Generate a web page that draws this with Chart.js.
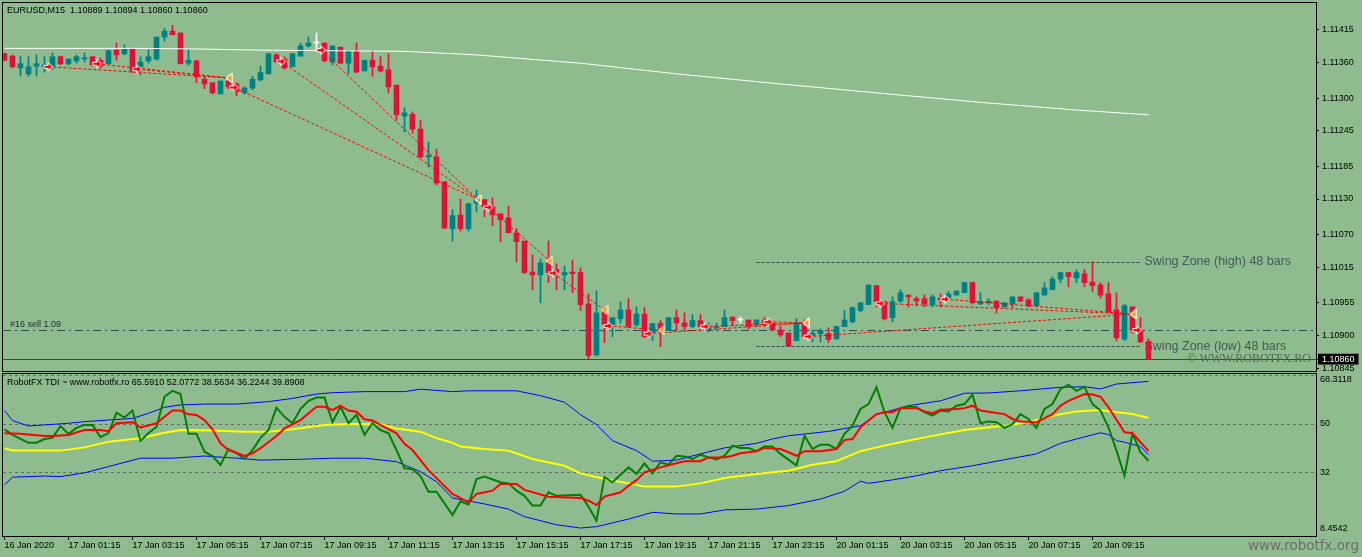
<!DOCTYPE html>
<html>
<head>
<meta charset="utf-8">
<title>EURUSD,M15 - RobotFX TDI</title>
<script src="https://cdn.jsdelivr.net/npm/chart.js@4.4.1/dist/chart.umd.min.js"></script>
<style>
  html, body { margin: 0; padding: 0; background: #8fbc8f; overflow: hidden; }
  #wrap { position: relative; width: 1362px; height: 557px; }
  canvas { position: absolute; left: 0; }
</style>
</head>
<body>
<div id="wrap">
  <canvas id="priceChart" width="1362" height="372" style="top:0"></canvas>
  <canvas id="tdiChart" width="1362" height="185" style="top:372px"></canvas>
</div>
<script>
// ---- data ----
const symbol = 'EURUSD,M15';
const indicatorName = 'RobotFX TDI ~ www.robotfx.ro';

// 144 M15 bars, 16 Jan 23:15 .. 20 Jan 11:00
const open = [
  1.11375,1.11371,1.11351,1.11341,1.11354,1.11353,1.11353,1.11370,1.11358,1.11363,
  1.11366,1.11370,1.11364,1.11358,1.11381,1.11375,1.11383,1.11353,1.11363,1.11366,
  1.11403,1.11413,1.11410,1.11359,1.11363,1.11332,1.11326,1.11307,1.11329,1.11324,
  1.11309,1.11317,1.11331,1.11341,1.11373,1.11366,1.11353,1.11371,1.11388,1.11393,
  1.11393,1.11361,1.11386,1.11359,1.11380,1.11346,1.11364,1.11354,1.11348,1.11322,
  1.11270,1.11273,1.11248,1.11201,1.11201,1.11159,1.11080,1.11103,1.11080,1.11123,
  1.11129,1.11117,1.11105,1.11098,1.11073,1.11059,1.11007,1.11002,1.11022,1.11011,
  1.11002,1.11007,1.11006,1.10953,1.10867,1.10940,1.10918,1.10928,1.10943,1.10918,
  1.10936,1.10904,1.10920,1.10908,1.10930,1.10921,1.10915,1.10925,1.10911,1.10913,
  1.10915,1.10931,1.10926,1.10926,1.10918,1.10926,1.10921,1.10909,1.10904,1.10891,
  1.10921,1.10899,1.10903,1.10903,1.10894,1.10915,1.10923,1.10942,1.10952,1.10984,
  1.10957,1.10930,1.10958,1.10968,1.10962,1.10962,1.10952,1.10963,1.10963,1.10968,
  1.10972,1.10989,1.10953,1.10955,1.10958,1.10948,1.10953,1.10965,1.10960,1.10950,
  1.10968,1.10977,1.10995,1.11006,1.10997,1.11004,1.10990,1.10985,1.10970,1.10943,
  1.10894,1.10948,1.10909,1.10889
];
const high = [
  1.11376,1.11373,1.11371,1.11370,1.11373,1.11370,1.11376,1.11371,1.11366,1.11373,
  1.11376,1.11370,1.11368,1.11381,1.11393,1.11390,1.11383,1.11370,1.11381,1.11403,
  1.11418,1.11423,1.11410,1.11381,1.11364,1.11336,1.11326,1.11329,1.11336,1.11326,
  1.11319,1.11337,1.11354,1.11375,1.11375,1.11370,1.11375,1.11393,1.11403,1.11410,
  1.11393,1.11388,1.11386,1.11380,1.11393,1.11364,1.11380,1.11370,1.11375,1.11322,
  1.11284,1.11277,1.11263,1.11226,1.11214,1.11159,1.11112,1.11130,1.11123,1.11145,
  1.11129,1.11132,1.11105,1.11118,1.11080,1.11059,1.11036,1.11029,1.11059,1.11021,
  1.11017,1.11027,1.11014,1.10970,1.10975,1.10948,1.10930,1.10957,1.10962,1.10948,
  1.10947,1.10920,1.10925,1.10930,1.10943,1.10938,1.10935,1.10935,1.10921,1.10921,
  1.10943,1.10931,1.10931,1.10926,1.10926,1.10930,1.10925,1.10915,1.10904,1.10928,
  1.10926,1.10909,1.10911,1.10913,1.10916,1.10942,1.10948,1.10955,1.10985,1.10984,
  1.10957,1.10965,1.10977,1.10968,1.10965,1.10968,1.10968,1.10970,1.10974,1.10975,
  1.10989,1.10990,1.10972,1.10962,1.10958,1.10955,1.10965,1.10965,1.10962,1.10972,
  1.10989,1.10999,1.11006,1.11006,1.11011,1.11011,1.11024,1.10989,1.10989,1.10972,
  1.10952,1.10948,1.10930,1.10894
];
const low = [
  1.11363,1.11351,1.11337,1.11337,1.11337,1.11344,1.11348,1.11356,1.11356,1.11359,
  1.11361,1.11354,1.11351,1.11358,1.11364,1.11373,1.11343,1.11339,1.11359,1.11364,
  1.11396,1.11407,1.11358,1.11356,1.11326,1.11316,1.11307,1.11307,1.11316,1.11304,
  1.11307,1.11314,1.11329,1.11341,1.11359,1.11349,1.11353,1.11371,1.11386,1.11381,
  1.11361,1.11356,1.11359,1.11341,1.11343,1.11346,1.11337,1.11344,1.11309,1.11263,
  1.11243,1.11241,1.11199,1.11184,1.11154,1.11080,1.11059,1.11076,1.11076,1.11108,
  1.11100,1.11085,1.11058,1.11073,1.11024,1.11004,1.10977,1.10955,1.10989,1.10977,
  1.10977,1.10972,1.10942,1.10861,1.10866,1.10888,1.10898,1.10921,1.10913,1.10915,
  1.10896,1.10891,1.10881,1.10908,1.10909,1.10909,1.10913,1.10913,1.10906,1.10909,
  1.10915,1.10916,1.10921,1.10911,1.10915,1.10916,1.10909,1.10898,1.10882,1.10891,
  1.10898,1.10889,1.10889,1.10888,1.10894,1.10915,1.10921,1.10940,1.10952,1.10948,
  1.10926,1.10923,1.10955,1.10948,1.10950,1.10948,1.10948,1.10948,1.10960,1.10968,
  1.10972,1.10953,1.10952,1.10952,1.10938,1.10947,1.10947,1.10957,1.10948,1.10950,
  1.10968,1.10977,1.10989,1.10982,1.10989,1.10982,1.10974,1.10963,1.10938,1.10891,
  1.10891,1.10904,1.10888,1.10860
];
const close = [
  1.11364,1.11353,1.11358,1.11353,1.11358,1.11356,1.11370,1.11358,1.11366,1.11370,
  1.11368,1.11356,1.11354,1.11380,1.11373,1.11383,1.11346,1.11361,1.11370,1.11403,
  1.11413,1.11407,1.11358,1.11364,1.11336,1.11324,1.11309,1.11329,1.11319,1.11311,
  1.11317,1.11332,1.11343,1.11375,1.11361,1.11351,1.11375,1.11388,1.11393,1.11393,
  1.11363,1.11388,1.11359,1.11380,1.11344,1.11364,1.11353,1.11346,1.11319,1.11272,
  1.11275,1.11248,1.11201,1.11203,1.11157,1.11081,1.11102,1.11080,1.11122,1.11129,
  1.11117,1.11103,1.11095,1.11073,1.11058,1.11006,1.11002,1.11022,1.11006,1.11006,
  1.11006,1.11004,1.10952,1.10866,1.10938,1.10918,1.10930,1.10943,1.10915,1.10936,
  1.10898,1.10920,1.10909,1.10930,1.10921,1.10915,1.10925,1.10915,1.10916,1.10915,
  1.10930,1.10925,1.10926,1.10915,1.10926,1.10921,1.10909,1.10901,1.10882,1.10921,
  1.10898,1.10904,1.10908,1.10893,1.10915,1.10926,1.10947,1.10955,1.10985,1.10957,
  1.10928,1.10957,1.10972,1.10965,1.10958,1.10953,1.10965,1.10960,1.10970,1.10975,
  1.10989,1.10955,1.10957,1.10958,1.10947,1.10955,1.10965,1.10958,1.10950,1.10972,
  1.10980,1.10995,1.11006,1.10999,1.11006,1.10989,1.10984,1.10968,1.10940,1.10896,
  1.10950,1.10909,1.10889,1.10860
];

// slow moving average (white), [bar, price]
const maLine = [[0,1.11384],[16,1.11384],[24,1.11383],[32,1.11381],[50,1.11379],[59,1.11373],
  [72,1.11359],[84,1.11341],[97,1.11324],[109,1.11309],[122,1.11293],[134,1.11280],[143,1.11272]];

// closed trades: entry arrow -> exit triangle
const tradeOpenIdx  = [5.5, 11.6, 16.6, 28.7, 34.6, 39.6, 60.5, 68.6, 75.5, 80.5, 87.6, 95.5, 100.5, 109.5, 117.6];
const tradeOpenPx   = [1.11353,1.11358,1.11349,1.11318,1.11362,1.11381,1.11116,1.11005,1.10916,1.10903,1.10915,1.10923,1.10898,1.10954,1.10961];
const tradeCloseIdx = [28.1, 28.1, 28.1, 59.2, 59.2, 59.2, 68.1, 75.0, 82.1, 100.2, 100.2, 100.2, 141.1, 141.1, 141.1];
const tradeClosePx  = [1.11334,1.11334,1.11334,1.11129,1.11129,1.11129,1.11026,1.10943,1.10909,1.10921,1.10921,1.10921,1.10936,1.10936,1.10936];
// open order #16
const orderIdx = 141.6, orderPrice = 1.10909, orderLabel = '#16 sell 1.09';
// swing zone (48 bars)
const swingFrom = 94, swingTo = 142, swingHigh = 1.11024, swingLow = 1.10882;

const priceTicks = [1.11415,1.11360,1.11300,1.11245,1.11185,1.11130,1.11070,1.11015,1.10955,1.10900,1.10845];
const priceMin = 1.10840, priceMax = 1.114605;

// TDI lines, [bar, value]
const rsiLine = [[0,47.9],[1,45.8],[3,42.9],[4,42.9],[5,44.3],[6,44.7],[7,49.1],[8,46.2],[9,48.4],[10,49.5],[11,49.5],[12,45.0],
  [13,46.5],[14,54.0],[15,52.2],[16,54.8],[17,43.6],[18,46.5],[19,48.8],[20,59.9],[21,62.1],[22,60.9],[23,46.2],[24,46.2],
  [25,39.6],[26,38.0],[27,34.7],[28,40.6],[29,39.1],[30,36.9],[31,40.2],[32,44.7],[33,47.6],[34,55.9],[35,52.5],[36,50.1],
  [37,55.4],[38,58.4],[39,59.6],[40,59.6],[41,50.5],[42,56.2],[43,50.1],[44,53.2],[45,45.8],[46,50.1],[47,47.6],[48,46.4],
  [49,40.2],[50,33.5],[51,33.1],[52,30.6],[53,24.8],[54,24.8],[56,16.2],[57,21.3],[58,20.0],[59,29.5],[60,30.4],[62,28.3],
  [63,27.9],[64,25.2],[65,23.3],[66,19.7],[67,19.7],[68,24.6],[69,23.3],[72,23.7],[73,19.3],[74,14.1],[75,30.2],[76,28.3],
  [78,33.8],[79,31.4],[80,35.3],[81,31.6],[82,35.7],[83,34.8],[84,38.1],[85,37.8],[86,36.9],[87,38.5],[88,37.5],[89,36.7],
  [90,38.1],[91,41.8],[92,41.0],[93,41.0],[94,39.8],[95,41.5],[96,41.5],[97,38.8],[99,34.6],[100,45.5],[101,40.6],[102,42.2],
  [103,42.2],[104,40.6],[105,46.2],[106,49.2],[107,55.4],[108,57.2],[109,63.4],[110,54.2],[111,48.4],[112,55.7],[113,56.4],
  [114,56.0],[115,54.2],[116,52.9],[117,54.8],[118,54.5],[119,56.6],[120,57.2],[121,60.7],[122,50.1],[123,50.8],[124,50.5],
  [125,48.4],[126,49.8],[127,53.5],[128,51.7],[129,48.4],[130,55.4],[131,57.2],[132,62.8],[133,64.4],[134,62.1],[135,63.6],
  [136,57.2],[137,54.8],[138,48.6],[139,40.0],[140,30.7],[141,46.2],[142,39.4],[143,36.2244]];
const signalLine = [[0,46.4],[2,46.2],[5,45.4],[6,45.4],[8,45.8],[10,47.6],[12,47.6],[13,47.2],[14,50.1],[16,50.5],[17,48.6],
  [19,50.1],[20,52.5],[21,54.8],[22,54.8],[23,53.4],[24,53.2],[25,51.3],[26,47.9],[27,42.7],[28,40.2],[29,39.2],[30,38.0],
  [31,39.0],[32,40.9],[34,45.4],[35,48.2],[37,51.3],[38,53.8],[39,56.2],[40,56.2],[41,55.0],[42,56.6],[43,54.8],[44,54.4],
  [45,51.6],[46,51.1],[47,49.5],[49,46.4],[50,42.5],[51,40.2],[53,32.8],[56,24.0],[58,20.9],[59,24.0],[61,25.2],[62,27.7],
  [64,27.7],[65,25.5],[68,23.0],[72,22.5],[73,21.5],[74,19.9],[75,23.0],[77,24.6],[78,27.0],[79,29.1],[80,32.0],[82,33.8],
  [84,35.3],[85,36.1],[87,36.1],[88,37.5],[90,37.5],[91,38.1],[92,39.0],[94,39.8],[95,41.0],[97,40.6],[98,39.4],[99,38.1],
  [100,39.8],[102,39.8],[104,40.6],[105,43.9],[106,44.3],[107,48.6],[108,51.1],[109,53.5],[110,54.2],[111,54.2],[112,55.7],
  [114,55.7],[115,54.5],[116,53.8],[117,55.1],[119,55.4],[120,55.7],[121,56.6],[122,54.8],[123,54.4],[125,53.5],[126,51.7],
  [127,50.8],[129,50.5],[131,53.5],[132,56.6],[133,58.4],[135,60.9],[136,60.7],[137,59.9],[138,56.0],[140,46.8],[141,46.4],
  [142,43.1],[143,39.8908]];
const baseLine = [[0,40.9],[1,40.0],[4,40.0],[7,40.0],[10,41.2],[13,43.3],[17,44.6],[20,46.6],[22,47.6],[26,47.4],[30,47.0],
  [33,47.0],[36,47.9],[40,49.5],[43,49.8],[47,49.7],[49,48.2],[52,47.0],[54,44.6],[56,42.9],[57,41.5],[60,40.6],[63,40.0],
  [66,36.9],[70,34.4],[72,31.6],[75,29.5],[78,27.9],[80,26.7],[84,26.7],[87,27.9],[90,29.9],[94,31.4],[96,32.0],[98,32.6],
  [101,34.8],[104,36.1],[107,39.8],[109,41.2],[112,43.1],[115,44.9],[120,47.6],[125,49.2],[128,50.5],[131,52.9],[134,54.5],
  [137,55.0],[139,54.2],[141,53.5],[143,52.0772]];
const upperBand = [[0,54.8],[1,51.1],[3,49.1],[5,49.5],[8,50.1],[10,50.7],[13,51.3],[16,51.9],[18,53.8],[20,56.0],[22,56.9],
  [25,57.2],[29,57.2],[33,58.1],[36,59.3],[39,60.9],[41,61.4],[45,61.8],[50,61.8],[52,62.7],[56,61.8],[58,62.1],[64,62.1],
  [67,60.3],[70,57.9],[72,53.3],[74,49.6],[76,43.7],[79,40.0],[81,36.1],[84,36.5],[87,38.8],[90,41.0],[94,42.7],[96,44.3],
  [98,45.5],[103,47.1],[107,49.2],[109,53.3],[113,56.6],[117,58.4],[120,61.2],[123,61.3],[127,62.1],[132,63.4],[135,63.6],
  [137,62.8],[139,64.6],[143,65.5910]];
const lowerBand = [[0,27.3],[1,30.2],[5,30.6],[7,30.4],[10,31.8],[13,34.1],[17,37.2],[21,37.2],[25,38.0],[29,37.2],[32,36.5],
  [37,36.8],[41,37.2],[45,37.2],[49,35.9],[52,32.2],[54,28.5],[56,22.5],[60,20.3],[63,18.4],[65,15.6],[69,12.6],[72,11.4],
  [74,11.9],[78,14.7],[81,17.2],[84,16.6],[87,16.6],[90,18.1],[94,18.4],[98,19.7],[102,22.1],[105,25.0],[107,28.7],[108,27.9],
  [111,29.2],[114,30.7],[117,32.6],[121,34.4],[124,36.1],[129,38.8],[132,42.7],[134,44.3],[137,46.6],[138,45.9],[139,43.7],
  [140,43.1],[142,41.5],[143,38.5634]];
const tdiLevels = [68, 50, 32];
const tdiTicks = [68.3118, 50, 32, 8.4542];

const timeTickIdx = [0,8,16,24,32,40,48,56,64,72,80,88,96,104,112,120,128,136];
const timeTickLabels = ['16 Jan 2020','17 Jan 01:15','17 Jan 03:15','17 Jan 05:15','17 Jan 07:15','17 Jan 09:15',
  '17 Jan 11:15','17 Jan 13:15','17 Jan 15:15','17 Jan 17:15','17 Jan 19:15','17 Jan 21:15','17 Jan 23:15',
  '20 Jan 01:15','20 Jan 03:15','20 Jan 05:15','20 Jan 07:15','20 Jan 09:15'];

// ---- helpers ----
const SANS = '"Liberation Sans", Arial, sans-serif';
Chart.defaults.font.family = SANS;
Chart.defaults.font.size = 9;
Chart.defaults.color = '#000';

const last = close.length - 1;
const lastClose = close[last];
const candleColor = close.map((c, i) => c > open[i] ? '#008080' : (c < open[i] ? '#dc143c' : '#ffffff'));

function hline(ctx, x0, x1, y, color, dash) {
  y = Math.round(y) + 0.5;
  ctx.save();
  ctx.strokeStyle = color; ctx.lineWidth = 1; ctx.setLineDash(dash);
  ctx.beginPath(); ctx.moveTo(x0, y); ctx.lineTo(x1, y); ctx.stroke();
  ctx.restore();
}
function label(ctx, str, x, y, font, color, align) {
  ctx.font = font; ctx.fillStyle = color;
  ctx.textAlign = align || 'left'; ctx.textBaseline = 'middle';
  ctx.fillText(str, x, y);
}
function frame(chart) {
  const a = chart.chartArea, ctx = chart.ctx;
  ctx.save();
  ctx.strokeStyle = '#000'; ctx.lineWidth = 1;
  ctx.strokeRect(a.left - 0.5, a.top - 0.5, a.right - a.left + 1, a.bottom - a.top + 1);
  ctx.restore();
}

// trade markers
function arrowGlyph() {
  const c = document.createElement('canvas');
  c.width = 12; c.height = 10;
  const g = c.getContext('2d');
  g.beginPath();
  g.moveTo(1.5, 3.5); g.lineTo(5.5, 3.5); g.lineTo(5.5, 1); g.lineTo(10.5, 5);
  g.lineTo(5.5, 9); g.lineTo(5.5, 6.5); g.lineTo(1.5, 6.5); g.closePath();
  g.fillStyle = '#ff0000'; g.strokeStyle = '#ffffff'; g.lineWidth = 1;
  g.fill(); g.stroke();
  return c;
}
function closeGlyph() {
  const c = document.createElement('canvas');
  c.width = 8; c.height = 11;
  const g = c.getContext('2d');
  g.beginPath(); g.moveTo(1, 5.5); g.lineTo(7, 1); g.lineTo(7, 10); g.closePath();
  g.fillStyle = '#daa520'; g.strokeStyle = '#ffffff'; g.lineWidth = 1;
  g.fill(); g.stroke();
  return c;
}
const arrowImg = arrowGlyph();
const closeImg = closeGlyph();

const tradePts = [];
tradeOpenIdx.forEach((x0, k) => {
  tradePts.push([x0, tradeOpenPx[k]], [tradeCloseIdx[k], tradeClosePx[k]], [tradeCloseIdx[k], null]);
});

// both panes share the same bar -> pixel mapping (8 px per bar)
const xRange = { type: 'linear', min: -0.1875, max: 163.9375, offset: false, bounds: 'data' };

// ---- price pane ----
const pricePlugin = {
  id: 'priceOverlay',
  beforeDatasetsDraw(chart) {
    const { ctx, chartArea: a, scales: { x, y } } = chart;
    hline(ctx, a.left, a.right, y.getPixelForValue(lastClose), '#2f4f4f', []);
    hline(ctx, a.left, a.right, y.getPixelForValue(orderPrice), '#2f4f4f', [8, 4, 2, 4]);
    hline(ctx, x.getPixelForValue(swingFrom), x.getPixelForValue(swingTo), y.getPixelForValue(swingHigh), '#2f4f4f', [3, 2]);
    hline(ctx, x.getPixelForValue(swingFrom), x.getPixelForValue(swingTo), y.getPixelForValue(swingLow), '#2f4f4f', [3, 2]);
    const tx = x.getPixelForValue(swingTo) + 4;
    label(ctx, 'Swing Zone (high) 48 bars', tx, y.getPixelForValue(swingHigh), '12.5px ' + SANS, '#46595a');
    label(ctx, 'Swing Zone (low) 48 bars', tx, y.getPixelForValue(swingLow), '12.5px ' + SANS, '#46595a');
    label(ctx, orderLabel, a.left + 7, y.getPixelForValue(orderPrice) - 5.5, '9px ' + SANS, '#1a2828');
    label(ctx, '\u00a9 WWW.ROBOTFX.RO', a.right - 5, y.getPixelForValue(lastClose), '12px "Liberation Serif", serif', '#566356', 'right');
  },
  afterDraw(chart) {
    frame(chart);
    const hdr = symbol + '  ' + [open[last], high[last], low[last], close[last]].map(v => v.toFixed(5)).join(' ');
    label(chart.ctx, hdr, chart.chartArea.left + 4, 11, '9px ' + SANS, '#000');
  }
};

new Chart(document.getElementById('priceChart'), {
  type: 'bar',
  data: {
    datasets: [
      { label: 'wick', data: high.map((h, i) => ({ x: i, y: [low[i], h] })), backgroundColor: candleColor,
        barThickness: 1, grouped: false, order: 6 },
      { label: 'body', data: open.map((o, i) => ({ x: i, y: [o, close[i]] })), backgroundColor: candleColor,
        barThickness: 5, minBarLength: 1, grouped: false, order: 5 },
      { type: 'line', label: 'MA', data: maLine, borderColor: '#ffffff', borderWidth: 1, pointRadius: 0, order: 4 },
      { type: 'line', label: 'trades', data: tradePts, borderColor: '#ff0000', borderWidth: 1, borderDash: [3, 2],
        pointRadius: 4, pointStyle: ctx => ctx.dataIndex % 3 === 0 ? arrowImg : closeImg, order: 3 },
      { type: 'line', label: 'order', data: [[orderIdx, orderPrice]], showLine: false,
        pointRadius: 4, pointStyle: arrowImg, order: 2 }
    ]
  },
  options: {
    responsive: false, animation: false, events: [],
    layout: { autoPadding: false, padding: { left: 3, top: 3, right: 0, bottom: 1 } },
    plugins: { legend: { display: false }, tooltip: { enabled: false } },
    scales: {
      x: Object.assign({}, xRange, { display: false }),
      y: {
        position: 'right', min: priceMin, max: priceMax, bounds: 'data', beginAtZero: false,
        afterBuildTicks: s => { s.ticks = priceTicks.concat([lastClose]).map(v => ({ value: v })); },
        afterFit: s => { s.width = 46; s.paddingTop = 0; s.paddingBottom = 0; },
        border: { display: false },
        grid: { drawOnChartArea: false, tickLength: 3, color: '#000' },
        ticks: {
          autoSkip: false, padding: 3, font: { size: 9 },
          callback: v => v.toFixed(5),
          color: c => c.tick && c.tick.value === lastClose ? '#ffffff' : '#000000',
          showLabelBackdrop: true,
          backdropColor: c => c.tick && c.tick.value === lastClose ? '#000000' : 'rgba(0,0,0,0)',
          backdropPadding: { left: 4, right: 4, top: 0, bottom: 0 }
        }
      }
    }
  },
  plugins: [pricePlugin]
});

// ---- TDI pane ----
const tdiPlugin = {
  id: 'tdiOverlay',
  beforeDatasetsDraw(chart) {
    const { ctx, chartArea: a, scales: { y } } = chart;
    tdiLevels.forEach(v => hline(ctx, a.left, a.right, y.getPixelForValue(v), '#6b6b6b', [3, 3]));
  },
  afterDraw(chart) {
    const { ctx, chartArea: a, scales: { y } } = chart;
    frame(chart);
    const vals = [upperBand, baseLine, lowerBand, rsiLine, signalLine].map(s => s[s.length - 1][1].toFixed(4));
    label(ctx, indicatorName + ' ' + vals.join(' '), a.left + 4, 10.5, '9px ' + SANS, '#000');
    tdiTicks.forEach(v => {
      const py = Math.min(Math.max(y.getPixelForValue(v), a.top + 6), a.bottom - 7);
      label(ctx, String(v), a.right + 4, py, '9px ' + SANS, '#000');
    });
    label(ctx, 'www.robotfx.org', 1359, 174, '13.5px "DejaVu Sans", sans-serif', '#6c6c6c', 'right');
  }
};

const tdiLine = (data, color, width, order) => ({
  data: data, borderColor: color, borderWidth: width, pointRadius: 0, tension: 0, order: order
});

new Chart(document.getElementById('tdiChart'), {
  type: 'line',
  data: {
    datasets: [
      tdiLine(signalLine, '#ff0000', 2, 1),
      tdiLine(rsiLine, '#008000', 2, 2),
      tdiLine(baseLine, '#ffff00', 2, 3),
      tdiLine(upperBand, '#0000ff', 1, 4),
      tdiLine(lowerBand, '#0000ff', 1, 5)
    ]
  },
  options: {
    responsive: false, animation: false, events: [],
    layout: { autoPadding: false, padding: { left: 3, top: 2, right: 0, bottom: 0 } },
    plugins: { legend: { display: false }, tooltip: { enabled: false } },
    scales: {
      x: Object.assign({}, xRange, {
        afterBuildTicks: s => { s.ticks = timeTickIdx.map(v => ({ value: v })); },
        afterFit: s => { s.height = 21; s.paddingLeft = 0; s.paddingRight = 0; },
        border: { display: false },
        grid: { drawOnChartArea: false, tickLength: 4, color: '#000', offset: false },
        ticks: { autoSkip: false, maxRotation: 0, align: 'start', padding: 0, font: { size: 9 },
          callback: (v, i) => timeTickLabels[i] }
      }),
      y: {
        position: 'right', min: tdiTicks[3], max: tdiTicks[0], bounds: 'data',
        afterFit: s => { s.width = 46; s.paddingTop = 0; s.paddingBottom = 0; },
        border: { display: false },
        grid: { display: false },
        ticks: { display: false }
      }
    }
  },
  plugins: [tdiPlugin]
});
</script>
</body>
</html>
